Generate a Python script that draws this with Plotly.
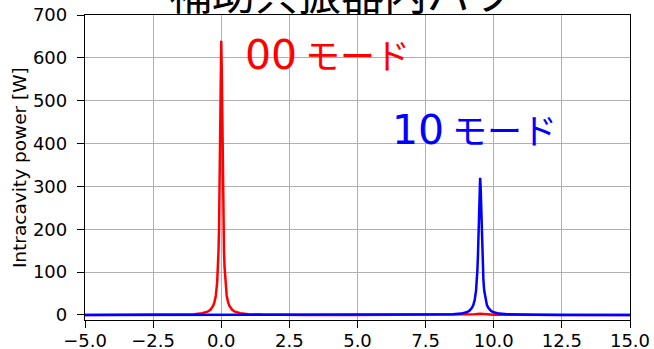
import plotly.graph_objects as go

# ---- data ----
red_x = [-5, -3, -2, -1.5, -1, -0.7, -0.5, -0.4, -0.3, -0.25, -0.2, -0.15, -0.12, -0.1,
         -0.08, -0.06, -0.04, -0.02, 0, 0.02, 0.04, 0.06, 0.08, 0.1, 0.12, 0.15, 0.2,
         0.25, 0.3, 0.4, 0.5, 0.7, 1, 1.5, 2, 3, 5, 7, 8.5, 9, 9.3, 9.5, 9.7, 10, 10.5, 12, 15]
red_y = [0.1, 0.2, 0.5, 0.9, 2, 4, 7.7, 12, 21, 30, 45, 76, 113, 150,
         205, 292, 420, 565, 640, 565, 420, 292, 205, 150, 113, 76, 45,
         30, 21, 12, 7.7, 4, 2, 0.9, 0.5, 0.2, 0.1, 0.1, 0.3, 0.8, 1.8, 3, 1.8, 0.8, 0.3, 0.1, 0.05]

blue_x = [-5, 0, 4.5, 6.5, 7.5, 8.0, 8.5, 8.8, 9.0, 9.1, 9.2, 9.25, 9.3, 9.35, 9.38, 9.4,
          9.42, 9.44, 9.46, 9.48, 9.5, 9.52, 9.54, 9.56, 9.58, 9.6, 9.62, 9.65, 9.7, 9.75,
          9.8, 9.9, 10.0, 10.2, 10.5, 11.0, 11.5, 12.5, 15.0]
blue_y = [0.05, 0.05, 0.1, 0.2, 0.4, 0.7, 1.6, 3.2, 6.2, 9.5, 16.5, 23, 35, 57, 82, 105,
          139, 184, 241, 296, 320, 296, 241, 184, 139, 105, 82, 57, 35, 23,
          16.5, 9.5, 6.2, 3.2, 1.6, 0.7, 0.4, 0.2, 0.08]

x_ticks = [-5.0, -2.5, 0.0, 2.5, 5.0, 7.5, 10.0, 12.5, 15.0]
x_tick_labels = ["\u22125.0", "\u22122.5", "0.0", "2.5", "5.0", "7.5", "10.0", "12.5", "15.0"]
y_ticks = [0, 100, 200, 300, 400, 500, 600, 700]
y_tick_labels = ["0", "100", "200", "300", "400", "500", "600", "700"]

title_text = "補助共振器内パワー"
y_label = "Intracavity power [W]"
label_00 = ("00", "モード")
label_10 = ("10", "モード")

FONT = "DejaVu Sans, Noto Sans CJK JP, sans-serif"
CJK = "Noto Sans CJK JP"

fig = go.Figure()
fig.add_trace(go.Scatter(x=red_x, y=red_y, mode="lines",
                         line=dict(color="#ff0000", width=2.5), hoverinfo="skip"))
fig.add_trace(go.Scatter(x=blue_x, y=blue_y, mode="lines",
                         line=dict(color="#0000ff", width=2.5), hoverinfo="skip"))

axis_common = dict(showgrid=True, gridcolor="#b0b0b0", gridwidth=1.3,
                   showline=True, linecolor="black", linewidth=1.3, mirror=True,
                   ticks="outside", ticklen=7, tickwidth=1.3, tickcolor="black",
                   zeroline=False, automargin=False,
                   tickfont=dict(family=FONT, size=18, color="black"))

fig.update_layout(
    width=654, height=349,
    margin=dict(l=85, r=24, t=15, b=29, autoexpand=False),
    plot_bgcolor="white", paper_bgcolor="white",
    showlegend=False,
    font=dict(family=FONT, size=18, color="black"),
    xaxis=dict(range=[-5, 15], tickmode="array", tickvals=x_ticks, ticktext=x_tick_labels,
               ticklabelstandoff=-3, **axis_common),
    yaxis=dict(range=[-11.7, 700], tickmode="array", tickvals=y_ticks, ticktext=y_tick_labels,
               ticklabelstandoff=6, **axis_common),
)

span = "<span style='font-family:Noto Sans CJK JP;font-size:35px'> {}</span>"

fig.add_annotation(xref="paper", yref="paper", x=0.51, y=1, xanchor="center", yanchor="bottom",
                   yshift=-9.5, showarrow=False, text=title_text,
                   font=dict(family=CJK, size=43, color="black"))
fig.add_annotation(xref="paper", yref="paper", x=-0.12, y=0.5, xanchor="center", yanchor="middle",
                   textangle=-90, showarrow=False, text=y_label,
                   font=dict(family=FONT, size=18.5, color="black"))
fig.add_annotation(xref="x", yref="y", x=0.79, y=610, xanchor="left", yanchor="middle",
                   showarrow=False, text=label_00[0] + span.format(label_00[1]),
                   font=dict(family=FONT, size=41, color="#ff0000"))
fig.add_annotation(xref="x", yref="y", x=6.19, y=436, xanchor="left", yanchor="middle",
                   showarrow=False, text=label_10[0] + span.format(label_10[1]),
                   font=dict(family=FONT, size=41, color="#0000ff"))

fig.write_html("out.html")
